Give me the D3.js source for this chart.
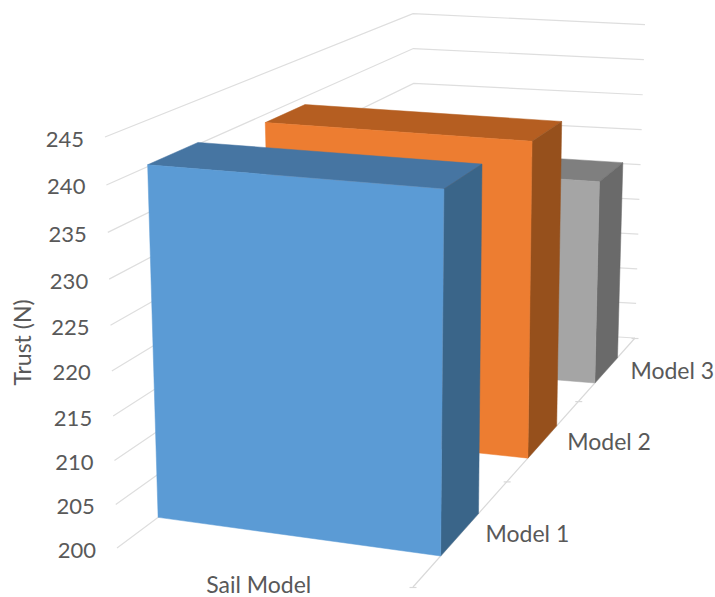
<!DOCTYPE html>
<html>
<head>
<meta charset="utf-8">
<style>
html,body{margin:0;padding:0;background:#fff}
svg{display:block}
text{font-family:Lato,"Open Sans",sans-serif;fill:#595959}
</style>
<script src="https://cdn.jsdelivr.net/npm/d3@7"></script>
</head>
<body>
<svg id="chart" width="715" height="597"></svg>
<script>
// Chart data
const categories = ["Sail Model"];
const seriesNames = ["Model 1", "Model 2", "Model 3"];
const seriesValues = [240.2, 239, 227.4];
const valueTicks = [200, 205, 210, 215, 220, 225, 230, 235, 240, 245];

const faceColors = [
  { front: "#5b9bd5", top: "#4675a2", side: "#3a6589" },
  { front: "#ed7d31", top: "#b55e21", side: "#96501c" },
  { front: "#a5a5a5", top: "#7f7f7f", side: "#6a6a6a" }
];

// Screen corners of the plot box: (u, w) = (0,0), (1,0), (1,1), (0,1),
// u running along the category axis and w running into the depth.
const floorCorners = [[117, 548], [413, 587], [635, 338], [416, 325]];
const ceilingCorners = [[105, 137], [417, 159], [645, 24.6], [413, 13.7]];

function quadMap(q) {
  const [[x0, y0], [x1, y1], [x2, y2], [x3, y3]] = q;
  const dx1 = x1 - x2, dx2 = x3 - x2, sx = x0 - x1 + x2 - x3;
  const dy1 = y1 - y2, dy2 = y3 - y2, sy = y0 - y1 + y2 - y3;
  const den = dx1 * dy2 - dx2 * dy1;
  const g = (sx * dy2 - dx2 * sy) / den;
  const h = (dx1 * sy - sx * dy1) / den;
  const a = x1 - x0 + g * x1, b = x3 - x0 + h * x3;
  const d = y1 - y0 + g * y1, e = y3 - y0 + h * y3;
  return (u, w) => {
    const k = g * u + h * w + 1;
    return [(a * u + b * w + x0) / k, (d * u + e * w + y0) / k];
  };
}
const floorAt = quadMap(floorCorners);
const ceilingAt = quadMap(ceilingCorners);

const valueScale = d3.scaleLinear().domain([200, 245]).range([0, 1]);
const categoryScale = d3.scaleBand().domain(categories).range([0, 1]);
const depthScale = d3.scaleBand().domain(seriesNames).range([0, 1]).padding(0);
const barDepth = d3.scaleBand().domain(seriesNames).range([0, 1]).paddingInner(0.6).paddingOuter(0.3);

// Vertical foreshortening is stronger toward the viewer than at the back wall.
function project(u, w, v) {
  const s = valueScale(v);
  const a = 0.946 + 0.045 * w;
  const t = a * s / (1 + (a - 1) * s);
  const p = floorAt(u, w), q = ceilingAt(u, w);
  return [p[0] + (q[0] - p[0]) * t, p[1] + (q[1] - p[1]) * t];
}
// Bars lean slightly toward the viewer on their right-hand side.
const barPoint = (u, w, v) => project(u, w - 0.012 * u, v);

const svg = d3.select("#chart");
const line = d3.line();
const closed = d3.line().curve(d3.curveLinearClosed);

// Gridlines on the side wall and back wall
const grid = svg.append("g").attr("fill", "none").attr("stroke", "#dedede").attr("stroke-width", 1.2);
grid.selectAll("path").data(valueTicks).join("path")
  .attr("d", v => line([project(0, 0, v), project(0, 1, v), project(1, 1, v)]));

// Depth axis line and its tick marks along the floor
const axis = svg.append("g").attr("fill", "none").attr("stroke", "#d9d9d9").attr("stroke-width", 1.2);
axis.append("path").attr("d", line([floorAt(1, 0), floorAt(1, 1)]));
const depthTicks = [0, ...seriesNames.map(n => depthScale(n) + depthScale.bandwidth())];
axis.selectAll("path.tick").data(depthTicks).join("path").attr("class", "tick")
  .attr("d", w => {
    const [x, y] = floorAt(1, w);
    return line([[x - 3.5, y + 0.5], [x + 3.5, y + 0.5]]);
  });

// Bars, painted from the back row forward
const u0 = categoryScale(categories[0]);
const u1 = u0 + categoryScale.bandwidth();
const rows = seriesNames.map((name, i) => ({
  name, value: seriesValues[i], colors: faceColors[i],
  w0: barDepth(name), w1: barDepth(name) + barDepth.bandwidth()
})).reverse();

const bars = svg.append("g").selectAll("g").data(rows).join("g");
const face = (cls, color, pts) => bars.append("path")
  .attr("class", cls)
  .attr("fill", d => d.colors[color])
  .attr("stroke", d => d.colors[color])
  .attr("stroke-width", 0.5)
  .attr("d", d => closed(pts(d)));

face("top", "top", d => [
  barPoint(u0, d.w0, d.value), barPoint(u1, d.w0, d.value),
  barPoint(u1, d.w1, d.value), barPoint(u0, d.w1, d.value)]);
face("side", "side", d => [
  barPoint(u1, d.w0, 200), barPoint(u1, d.w1, 200),
  barPoint(u1, d.w1, d.value), barPoint(u1, d.w0, d.value)]);
face("front", "front", d => [
  barPoint(u0, d.w0, 200), barPoint(u1, d.w0, 200),
  barPoint(u1, d.w0, d.value), barPoint(u0, d.w0, d.value)]);

// Text: value ticks, depth labels, category label, axis title
const fontSize = 23;
svg.append("g").selectAll("text").data(valueTicks).join("text")
  .attr("text-anchor", "end")
  .attr("font-size", 22)
  .attr("x", v => project(0, 0, v)[0] - 21)
  .attr("y", v => project(0, 0, v)[1] + 9.5)
  .text(v => v);

svg.append("g").selectAll("text").data(seriesNames).join("text")
  .attr("font-size", fontSize)
  .attr("x", n => floorAt(1, depthScale(n) + depthScale.bandwidth() / 2)[0] + 22)
  .attr("y", n => floorAt(1, depthScale(n) + depthScale.bandwidth() / 2)[1] + 11.5)
  .text(n => n);

svg.append("g").selectAll("text").data(categories).join("text")
  .attr("text-anchor", "middle")
  .attr("font-size", fontSize)
  .attr("x", c => floorAt(categoryScale(c) + categoryScale.bandwidth() / 2, 0)[0])
  .attr("y", c => floorAt(categoryScale(c) + categoryScale.bandwidth() / 2, 0)[1] + 26)
  .text(c => c);

svg.append("text")
  .attr("transform", "translate(31,342.5) rotate(-90)")
  .attr("text-anchor", "middle")
  .attr("font-size", 23)
  .text("Trust (N)");
</script>
</body>
</html>
